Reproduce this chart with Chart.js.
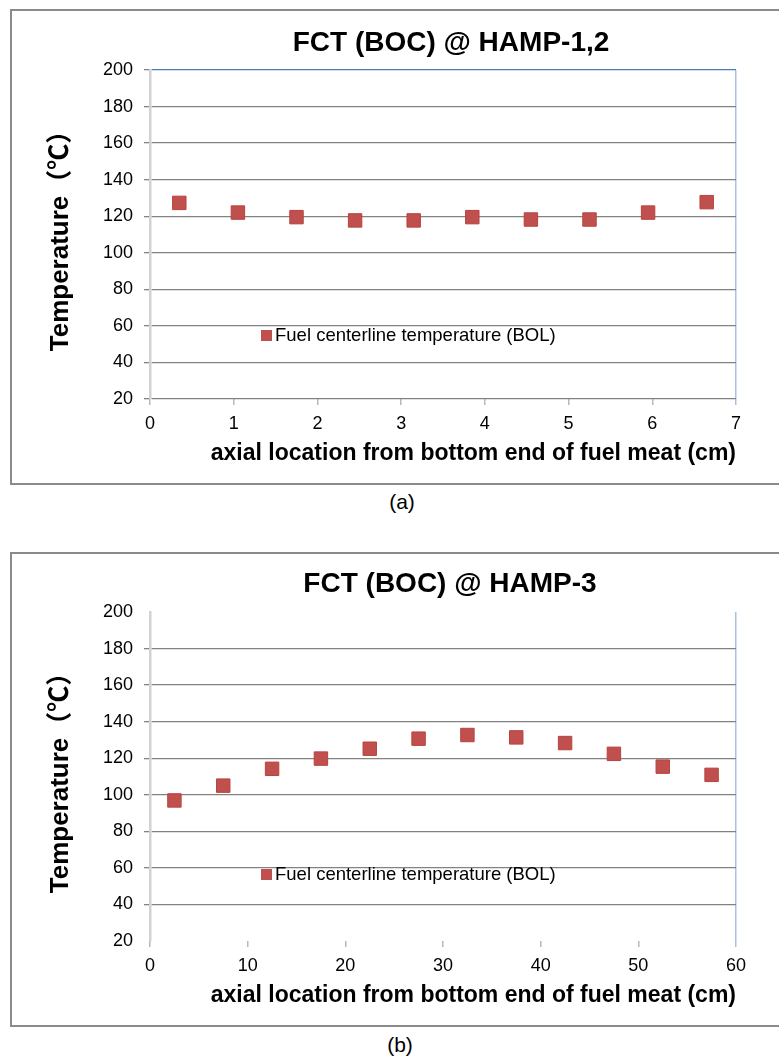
<!DOCTYPE html>
<html>
<head>
<meta charset="utf-8">
<script src="https://cdn.jsdelivr.net/npm/chart.js@4.4.1/dist/chart.umd.min.js"></script>
<style>
  html, body { margin: 0; padding: 0; background: #fff; overflow: hidden; }
  body { width: 779px; height: 1058px; position: relative; font-family: "Liberation Sans", Arial, sans-serif; color: #000; }
  .box { position: absolute; left: 10px; width: 830px; border: 2px solid #8a8a8a; box-sizing: border-box; }
  .wrap { position: absolute; left: 12px; width: 767px; height: 471px; }
  .chart-title { position: absolute; font-weight: bold; font-size: 28px; white-space: nowrap; transform: translate(-50%, -50%); }
  .caption { position: absolute; font-size: 21px; white-space: nowrap; transform: translate(-50%, -50%); }
  .legend { position: absolute; left: 261px; height: 22px; display: flex; align-items: center; font-size: 18.5px; white-space: nowrap; }
  .legend .swatch { width: 11px; height: 11px; background: #C0504D; margin-right: 3px; }
</style>
</head>
<body>

<div class="box" style="top:9px;height:476px"></div>
<div class="wrap" style="top:11px"><canvas id="chartA" width="767" height="471"></canvas></div>
<div class="chart-title" style="left:451px;top:42px" id="titleA"></div>
<div class="legend" style="top:324px" id="legendA"></div>
<div class="caption" style="left:402px;top:502px">(a)</div>

<div class="box" style="top:552px;height:475px"></div>
<div class="wrap" style="top:553px"><canvas id="chartB" width="767" height="471"></canvas></div>
<div class="chart-title" style="left:450px;top:583px" id="titleB"></div>
<div class="legend" style="top:863px" id="legendB"></div>
<div class="caption" style="left:400px;top:1045px">(b)</div>

<script>
// Chart data
const seriesLabel = 'Fuel centerline temperature (BOL)';
const yTitle = 'Temperature（℃）';
const xTitle = 'axial location from bottom end of fuel meat (cm)';
const yTicks = [20, 40, 60, 80, 100, 120, 140, 160, 180, 200];

// (a) HAMP-1,2
const titleA = 'FCT (BOC) @ HAMP-1,2';
const xA = [0.35, 1.05, 1.75, 2.45, 3.15, 3.85, 4.55, 5.25, 5.95, 6.65];
const yA = [127.3, 122, 119.5, 117.7, 117.7, 119.5, 118.2, 118.2, 122, 127.7];
const xTicksA = [0, 1, 2, 3, 4, 5, 6, 7];

// (b) HAMP-3
const titleB = 'FCT (BOC) @ HAMP-3';
const xB = [2.5, 7.5, 12.5, 17.5, 22.5, 27.5, 32.5, 37.5, 42.5, 47.5, 52.5, 57.5];
const yB = [96.9, 105, 114.2, 119.8, 125.2, 130.7, 132.7, 131.4, 128.3, 122.4, 115.4, 110.9];
const xTicksB = [0, 10, 20, 30, 40, 50, 60];

const FONT = '"Liberation Sans", Arial, "Noto Sans CJK KR", sans-serif';
const GRID = '#828282';
const RED = '#C0504D';

// Build one scatter chart; "open" = chart (b), which has no top line and no line at 20
function makeChart(id, xs, ys, xTicks, open) {
    const yMin = yTicks[0];
    const yMax = yTicks[yTicks.length - 1];
    const xMin = xTicks[0];
    const xMax = xTicks[xTicks.length - 1];

    const yLineColor = (c) => {
        const v = c.tick ? c.tick.value : null;
        if (v === yMax) return open ? 'transparent' : '#4A7EBB';
        if (v === yMin) return open ? 'transparent' : GRID;
        return GRID;
    };
    const yTickColor = (c) => {
        const v = c.tick ? c.tick.value : null;
        if (open && (v === yMax || v === yMin)) return 'transparent';
        return GRID;
    };

    return new Chart(document.getElementById(id), {
        type: 'scatter',
        data: {
            datasets: [{
                label: seriesLabel,
                data: xs.map((x, i) => ({ x: x, y: ys[i] })),
                pointStyle: 'rect',
                pointRadius: 9.5,
                pointHoverRadius: 9.5,
                backgroundColor: RED,
                borderColor: '#B8433F',
                borderWidth: 1
            }]
        },
        options: {
            responsive: false,
            animation: false,
            devicePixelRatio: 1,
            layout: { padding: { top: 59, right: 43, left: 0, bottom: 0 } },
            plugins: {
                legend: { display: false },
                tooltip: { enabled: false },
                title: { display: false }
            },
            scales: {
                x: {
                    type: 'linear',
                    min: xMin,
                    max: xMax,
                    afterBuildTicks: (s) => { s.ticks = xTicks.map(v => ({ value: v })); },
                    afterFit: (s) => { s.height = 83; },
                    ticks: {
                        color: '#000',
                        font: { family: FONT, size: 18 },
                        padding: 8,
                        maxRotation: 0,
                        autoSkip: false
                    },
                    grid: {
                        color: (c) => (c.tick && c.tick.value === xMax) ? '#A7C2E3' : 'transparent',
                        lineWidth: 1.5,
                        tickColor: (c) => (c.tick && c.tick.value === xMax) ? '#A7C2E3' : '#B8B8B8',
                        tickLength: 6,
                        tickWidth: 1.5
                    },
                    border: { display: false },
                    title: {
                        display: true,
                        text: xTitle,
                        align: 'end',
                        color: '#000',
                        font: { family: FONT, size: 23, weight: 'bold' },
                        padding: { top: 0, bottom: 15 }
                    }
                },
                y: {
                    min: yMin,
                    max: yMax,
                    afterBuildTicks: (s) => { s.ticks = yTicks.map(v => ({ value: v })); },
                    afterFit: (s) => { s.width = 138; },
                    ticks: {
                        color: '#000',
                        font: { family: FONT, size: 18 },
                        padding: 11
                    },
                    grid: {
                        color: yLineColor,
                        lineWidth: 1.3,
                        tickColor: yTickColor,
                        tickLength: 6
                    },
                    border: { display: true, color: '#D2D2D2', width: 2.5 },
                    title: {
                        display: true,
                        text: yTitle,
                        color: '#000',
                        font: { family: FONT, size: 26, weight: 'bold' },
                        padding: { top: 33, bottom: 0 }
                    }
                }
            }
        }
    });
}

// HTML legend built from the dataset label
function fillLegend(id, chart) {
    const el = document.getElementById(id);
    chart.data.datasets.forEach(ds => {
        el.insertAdjacentHTML('beforeend', `<span class="swatch"></span><span>${ds.label}</span>`);
    });
}

const chartA = makeChart('chartA', xA, yA, xTicksA, false);
const chartB = makeChart('chartB', xB, yB, xTicksB, true);

document.getElementById('titleA').textContent = titleA;
document.getElementById('titleB').textContent = titleB;
fillLegend('legendA', chartA);
fillLegend('legendB', chartB);
</script>
</body>
</html>
